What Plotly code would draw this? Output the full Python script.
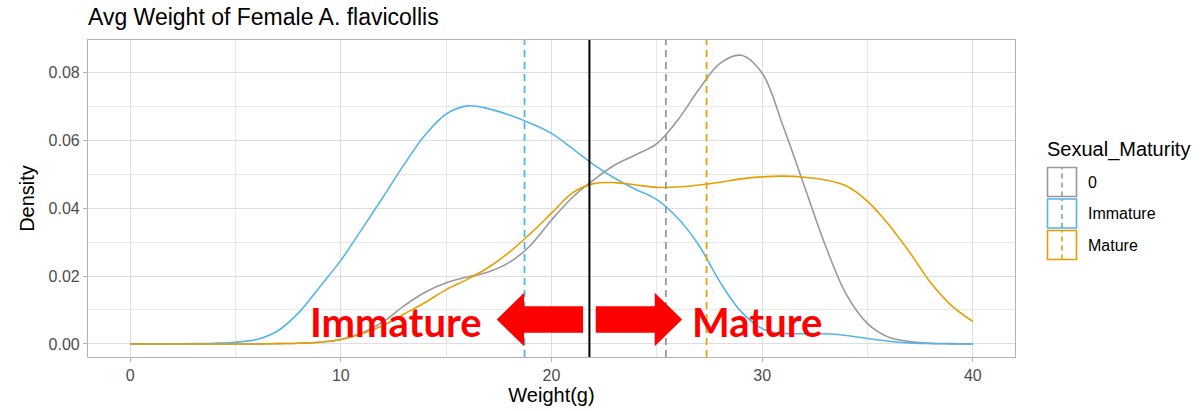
import plotly.graph_objects as go

# ---- data -------------------------------------------------------------
weights = list(range(0, 41))  # Weight(g) grid for the density estimates

dens_zero = [0, 0, 0, 0, 0, 0, 0, 0.0001, 0.0002, 0.0005,
             0.0013, 0.0032, 0.0065, 0.0112, 0.0152, 0.0180, 0.0197, 0.0212, 0.0240, 0.0290,
             0.0365, 0.0432, 0.0483, 0.0527, 0.0557, 0.0590, 0.0660, 0.0750, 0.0826, 0.0850,
             0.0797, 0.0640, 0.0465, 0.0290, 0.0145, 0.0060, 0.0020, 0.0007, 0.0002, 0.0001,
             0]
dens_immature = [0, 0, 0, 0.0001, 0.0002, 0.0005, 0.0013, 0.0038, 0.0092, 0.0168,
                 0.0246, 0.0338, 0.0432, 0.0528, 0.0615, 0.0677, 0.0701, 0.0693, 0.0674, 0.0650,
                 0.0620, 0.0575, 0.0528, 0.0488, 0.0455, 0.0425, 0.0370, 0.0290, 0.0182, 0.0095,
                 0.0045, 0.0031, 0.0030, 0.0030, 0.0025, 0.0016, 0.0008, 0.0003, 0.0001, 0,
                 0]
dens_mature = [0, 0, 0, 0, 0, 0, 0, 0.0001, 0.0002, 0.0005,
               0.0013, 0.0030, 0.0054, 0.0088, 0.0122, 0.0160, 0.0190, 0.0225, 0.0270, 0.0325,
               0.0385, 0.0445, 0.0472, 0.0475, 0.0468, 0.0461, 0.0462, 0.0468, 0.0476, 0.0486,
               0.0492, 0.0494, 0.0491, 0.0483, 0.0465, 0.0420, 0.0352, 0.0270, 0.0180, 0.0112,
               0.0066]

groups = ["0", "Immature", "Mature"]
group_means = [25.43, 18.72, 27.36]   # mean weight per group (dashed lines)
threshold = 21.8                       # maturity cut-off (solid line)

x_ticks = [0, 10, 20, 30, 40]
y_ticks = [0.00, 0.02, 0.04, 0.06, 0.08]

colors = ["#999999", "#56B4E9", "#E69F00"]
densities = [dens_zero, dens_immature, dens_mature]

# ---- geometry of the canvas ------------------------------------------
W, H = 1204, 411
L, R, T, B = 88, 1015, 40, 357


def px2x(px):
    return (px - L) / (R - L)


def py2y(py):
    return (B - py) / (B - T)


FONT = "Liberation Sans, Arial, Helvetica, sans-serif"

fig = go.Figure()

for name, ys, col in zip(groups, densities, colors):
    fig.add_trace(go.Scatter(
        x=weights, y=ys, mode="lines", name=name,
        line=dict(color=col, width=1.6, shape="spline", smoothing=1.0),
        showlegend=False, hoverinfo="skip",
    ))

# group means
for m, col in zip(group_means, colors):
    fig.add_shape(type="line", xref="x", yref="paper", x0=m, x1=m, y0=0, y1=1,
                  line=dict(color=col, width=1.8, dash="7px,5px"))

# maturity threshold
fig.add_shape(type="line", xref="x", yref="paper", x0=threshold, x1=threshold,
              y0=0, y1=1, line=dict(color="black", width=2))

# direction arrows either side of the threshold
y_mid, shaft_h, head_h = 0.0072, 0.0039, 0.0079
gap, shaft_len, head_len = 0.3, 2.8, 1.3


def arrow_path(direction):
    s0 = threshold + direction * gap
    hb = s0 + direction * shaft_len
    tip = hb + direction * head_len
    pts = [(s0, y_mid + shaft_h), (hb, y_mid + shaft_h), (hb, y_mid + head_h),
           (tip, y_mid), (hb, y_mid - head_h), (hb, y_mid - shaft_h),
           (s0, y_mid - shaft_h)]
    return "M " + " L ".join(f"{x},{y}" for x, y in pts) + " Z"


for d in (-1, 1):
    fig.add_shape(type="path", xref="x", yref="y", path=arrow_path(d),
                  fillcolor="#FF0000", line=dict(width=0))

red_font = dict(family="Lato, Open Sans, sans-serif", size=40, color="#FF0000", weight="bold")
fig.add_annotation(x=threshold - 9.17, y=y_mid - 0.0008, xref="x", yref="y",
                   text="<b>Immature</b>", showarrow=False, font=red_font,
                   xanchor="center", yanchor="middle")
fig.add_annotation(x=threshold + 7.96, y=y_mid - 0.0008, xref="x", yref="y",
                   text="<b>Mature</b>", showarrow=False, font=red_font,
                   xanchor="center", yanchor="middle")

# ---- legend (drawn by hand: outlined key boxes with a dashed mean mark) ----
fig.add_annotation(x=px2x(1045), y=py2y(149), xref="paper", yref="paper",
                   text="Sexual_Maturity", showarrow=False,
                   font=dict(family=FONT, size=20, color="black"),
                   xanchor="left", yanchor="middle")
key_top, key_step, key_size = 167.5, 31.5, 29
for i, (name, col) in enumerate(zip(groups, colors)):
    top = key_top + i * key_step
    fig.add_shape(type="rect", xref="paper", yref="paper",
                  x0=px2x(1047.5), x1=px2x(1047.5 + key_size),
                  y0=py2y(top + key_size), y1=py2y(top),
                  line=dict(color=col, width=1.6), fillcolor="white")
    fig.add_shape(type="line", xref="paper", yref="paper",
                  x0=px2x(1062), x1=px2x(1062),
                  y0=py2y(top + key_size), y1=py2y(top),
                  line=dict(color=col, width=1.6, dash="5px,4px"))
    fig.add_annotation(x=px2x(1086), y=py2y(top + key_size / 2), xref="paper", yref="paper",
                       text=name, showarrow=False,
                       font=dict(family=FONT, size=16, color="black"),
                       xanchor="left", yanchor="middle")

axis_common = dict(
    showline=True, mirror=True, linecolor="#B3B3B3", linewidth=1.2,
    showgrid=True, gridcolor="#DEDEDE", gridwidth=1,
    ticks="outside", ticklen=4, tickcolor="#B3B3B3", tickwidth=1,
    tickfont=dict(family=FONT, size=16, color="#4D4D4D"),
    zeroline=False, automargin=False,
)

fig.update_layout(
    width=W, height=H,
    margin=dict(l=L, r=W - R, t=T, b=H - B),
    paper_bgcolor="white", plot_bgcolor="white",
    showlegend=False,
    title=dict(text="Avg Weight of Female A. flavicollis",
               font=dict(family=FONT, size=23, color="black"),
               x=L / W, xanchor="left", xref="container",
               y=1 - 17 / H, yanchor="middle", yref="container"),
    xaxis=dict(range=[-2, 42], tickvals=x_ticks, ticktext=[str(v) for v in x_ticks],
               minor=dict(dtick=5, tick0=0, showgrid=True, gridcolor="#E8E8E8", gridwidth=1, ticklen=0),
               title=dict(text="Weight(g)", font=dict(family=FONT, size=20, color="black"),
                          standoff=4),
               **axis_common),
    yaxis=dict(range=[-0.00385, 0.0895], tickvals=y_ticks,
               ticktext=[f"{v:.2f}" for v in y_ticks],
               minor=dict(dtick=0.01, tick0=0, showgrid=True, gridcolor="#E8E8E8", gridwidth=1, ticklen=0),
               title=dict(text="Density", font=dict(family=FONT, size=20, color="black"),
                          standoff=8),
               **axis_common),
)

fig.write_html("out.html")
